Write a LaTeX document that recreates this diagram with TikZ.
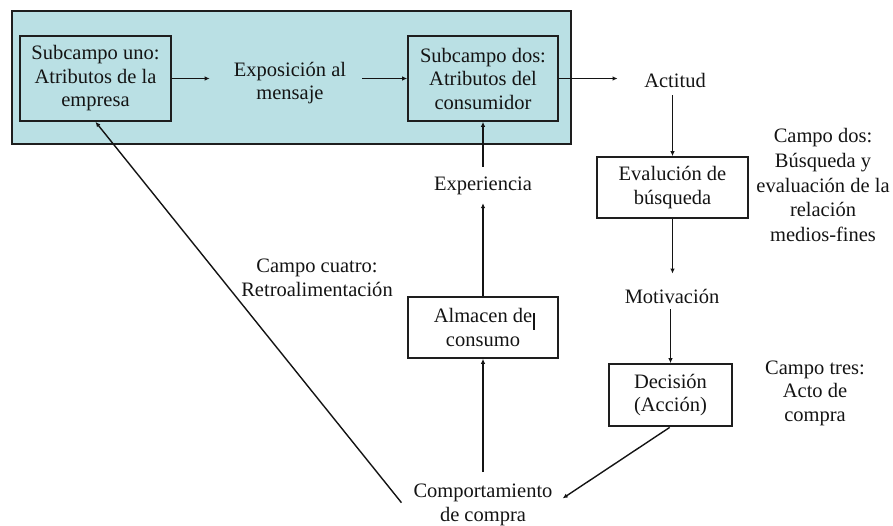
\documentclass[tikz,border=0pt]{standalone}
\usepackage{fontspec}
\setmainfont{Liberation Serif}
\usetikzlibrary{arrows.meta}
\definecolor{cyanbg}{RGB}{186,224,228}
\definecolor{frame}{RGB}{30,30,30}
\definecolor{ink}{RGB}{20,20,20}
\begin{document}
\begin{tikzpicture}[x=1pt,y=-1pt,
  txt/.style={font=\rmfamily\fontsize{20.5}{23.5}\selectfont, align=center, inner sep=0pt, text=ink},
  boxed/.style={txt, draw=frame, line width=1.7pt},
  conn/.style={draw=ink, line width=1.4pt, -{Latex[length=5pt,width=4.5pt]}},
]
\useasboundingbox (0,0) rectangle (893,525);
% outer field
\node[draw=frame, line width=1.8pt, fill=cyanbg, minimum width=559pt, minimum height=133pt] (field) at (291.5,77.5) {};
% boxes
\node[boxed, minimum width=151pt, minimum height=85pt] (b1) at (95.5,78.5) {Subcampo uno:\\Atributos de la\\empresa};
\node[boxed, minimum width=150pt, minimum height=85pt] (b2) at (483,78.5) {Subcampo dos:\\Atributos del\\consumidor};
\node[boxed, minimum width=151pt, minimum height=61pt] (ev) at (672.5,187.5) {Evalución de\\búsqueda};
\node[boxed, minimum width=150pt, minimum height=61pt] (alm) at (483,327.5) {Almacen de\\consumo};
\node[boxed, minimum width=123pt, minimum height=62pt] (dec) at (670.5,395) {Decisión\\(Acción)};
% plain texts
\node[txt] (expo) at (290,83) {Exposición al\\mensaje};
\node[txt] (act) at (675,80) {Actitud};
\node[txt] (exp) at (483,186) {Experiencia};
\node[txt] (mot) at (672,296) {Motivación};
\node[txt] (comp) at (483,505) {Comportamiento\\de compra};
\node[txt, font=\rmfamily\fontsize{20.5}{24.7}\selectfont] (c2) at (823,185) {Campo dos:\\Búsqueda y\\evaluación de la\\relación\\medios-fines};
\node[txt] (c4) at (317,278) {Campo cuatro:\\Retroalimentación};
\node[txt] (c3) at (815,393) {Campo tres:\\Acto de\\compra};
% cursor mark
\draw[ink, line width=1.2pt] (534,313) -- (534,330);
% connectors
\draw[conn, shorten >=24pt] (b1.east) -- (b1.east -| expo.west);
\draw[conn, shorten <=16pt] (b2.west -| expo.east) -- (b2.west);
\draw[conn, shorten >=26.5pt] (b2.east) -- (b2.east -| act.west);
\draw[conn, shorten <=8pt] (act.south -| ev.north) -- (ev.north);
\draw[conn, shorten >=15pt] (ev.south) -- (ev.south |- mot.north);
\draw[conn, shorten <=6pt] (mot.south -| dec.north) -- (dec.north);
\draw[conn, shorten <=1pt, shorten >=12pt] (dec.south) -- (comp.east);
\draw[conn, shorten <=12pt] (comp.north) -- (alm.south);
\draw[conn, shorten >=8pt] (alm.north) -- (exp.south);
\draw[conn, shorten <=10pt] (exp.north) -- (b2.south);
\draw[conn, shorten <=3pt] ([xshift=-10pt]comp.west) -- (b1.south);
\end{tikzpicture}
\end{document}
